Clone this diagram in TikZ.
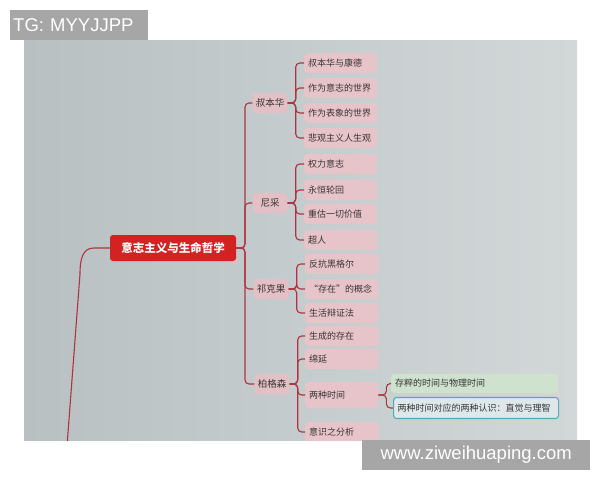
\documentclass[tikz,border=0pt]{standalone}
\usepackage{fontspec}
\setmainfont{Liberation Sans}
\newfontfamily\cjk{Noto Sans CJK SC}
\usetikzlibrary{calc}
\definecolor{bgA}{RGB}{184,192,194}
\definecolor{bgB}{RGB}{210,216,216}
\definecolor{linec}{RGB}{176,52,64}
\definecolor{rootc}{RGB}{212,34,34}
\definecolor{lonec}{RGB}{226,192,197}
\definecolor{ltwoc}{RGB}{230,196,202}
\definecolor{greenc}{RGB}{206,226,206}
\definecolor{tealc}{RGB}{84,170,186}
\definecolor{tealfill}{RGB}{222,232,234}
\definecolor{txtc}{RGB}{58,52,54}
\definecolor{wmc}{RGB}{166,166,166}
\begin{document}
\begin{tikzpicture}[x=1pt,y=-1pt,
  conn/.style={draw=linec,line width=1.1pt,rounded corners=4pt},
  rootbox/.style={fill=rootc,rounded corners=3pt,minimum width=126pt,minimum height=26pt,inner sep=0pt,text=white,font=\cjk\bfseries\fontsize{11.5}{12}\selectfont},
  lone/.style={fill=lonec,rounded corners=3pt,minimum width=35pt,minimum height=20pt,inner sep=0pt,text=txtc,font=\cjk\fontsize{9.5}{10}\selectfont},
  ltwo/.style={fill=ltwoc,rounded corners=3pt,minimum height=20pt,text width=65pt,inner xsep=4pt,inner ysep=0pt,align=left,anchor=west,text=txtc,font=\cjk\fontsize{9}{10}\selectfont},
  lthree/.style={rounded corners=3pt,minimum height=19pt,inner xsep=4pt,inner ysep=0pt,anchor=west,text=txtc,font=\cjk\fontsize{9}{10}\selectfont},
  wm/.style={fill=wmc,text=white,inner sep=0pt,font=\fontsize{18.5}{20}\selectfont}
]
\useasboundingbox (0,0) rectangle (600,480);
\fill[white] (0,0) rectangle (600,480);
\shade[left color=bgA,right color=bgB] (24,40) rectangle (577,440);
\begin{scope}
\clip (24,40) rectangle (577,440);
% root
\node[rootbox] (root) at (173,248) {意志主义与生命哲学};
\coordinate (lend) at (67,446);
\draw[conn,rounded corners=0pt] (root.west) -- (94,248) .. controls (83,248) and (80,258) .. (80,274) -- (lend);
% level 1
\node[lone] (sch) at (270,103) {叔本华};
\node[lone] (nie) at (270,203) {尼采};
\node[lone] (kie) at (271,289) {祁克果};
\node[lone] (ber) at (272,384) {柏格森};
\foreach \c in {sch,nie,kie,ber}
  \draw[conn] (root.east) -- (245,248) |- (\c.west);
% level 2: Schopenhauer
\node[ltwo,minimum width=73pt] (s1) at (304,63) {叔本华与康德};
\node[ltwo] (s2) at (304,88) {作为意志的世界};
\node[ltwo] (s3) at (304,113) {作为表象的世界};
\node[ltwo] (s4) at (304,138) {悲观主义人生观};
\foreach \c in {s1,s2,s3,s4}
  \draw[conn] (sch.east) -- ($(sch.east)+(8,0)$) |- (\c.west);
% Nietzsche
\node[ltwo] (n1) at (304,164) {权力意志};
\node[ltwo] (n2) at (304,190) {永恒轮回};
\node[ltwo] (n3) at (304,214) {重估一切价值};
\node[ltwo] (n4) at (304,240) {超人};
\foreach \c in {n1,n2,n3,n4}
  \draw[conn] (nie.east) -- ($(nie.east)+(8,0)$) |- (\c.west);
% Kierkegaard
\node[ltwo] (k1) at (305,264) {反抗黑格尔};
\node[ltwo] (k2) at (305,289) {“存在”的概念};
\node[ltwo] (k3) at (305,313) {生活辩证法};
\foreach \c in {k1,k2,k3}
  \draw[conn] (kie.east) -- ($(kie.east)+(8,0)$) |- (\c.west);
% Bergson
\node[ltwo] (b1) at (305,336) {生成的存在};
\node[ltwo] (b2) at (305,359) {绵延};
\node[ltwo,minimum height=26pt] (b3) at (305,395) {两种时间};
\node[ltwo] (b4) at (305,432) {意识之分析};
\foreach \c in {b1,b2,b3,b4}
  \draw[conn] (ber.east) -- ($(ber.east)+(8,0)$) |- (\c.west);
% level 3
\node[lthree,fill=greenc,minimum width=167pt,align=left,text width=159pt] (t1) at (391,383.5) {存粹的时间与物理时间};
\node[lthree,fill=tealfill,draw=tealc,line width=1.1pt,minimum height=21pt,text width=157pt,align=left] (t2) at (393,408) {两种时间对应的两种认识：直觉与理智};
\foreach \c in {t1,t2}
  \draw[conn] (b3.east) -- ($(b3.east)+(8,0)$) |- (\c.west);
\end{scope}
% watermarks
\node[wm,minimum width=138pt,minimum height=30pt,anchor=north west,text width=132pt,align=left] (wmA) at (10,10) {TG: MYYJJPP};
\node[wm,minimum width=228pt,minimum height=30pt,anchor=north west] (wmB) at (362,440) {www.ziweihuaping.com};
\end{tikzpicture}
\end{document}
